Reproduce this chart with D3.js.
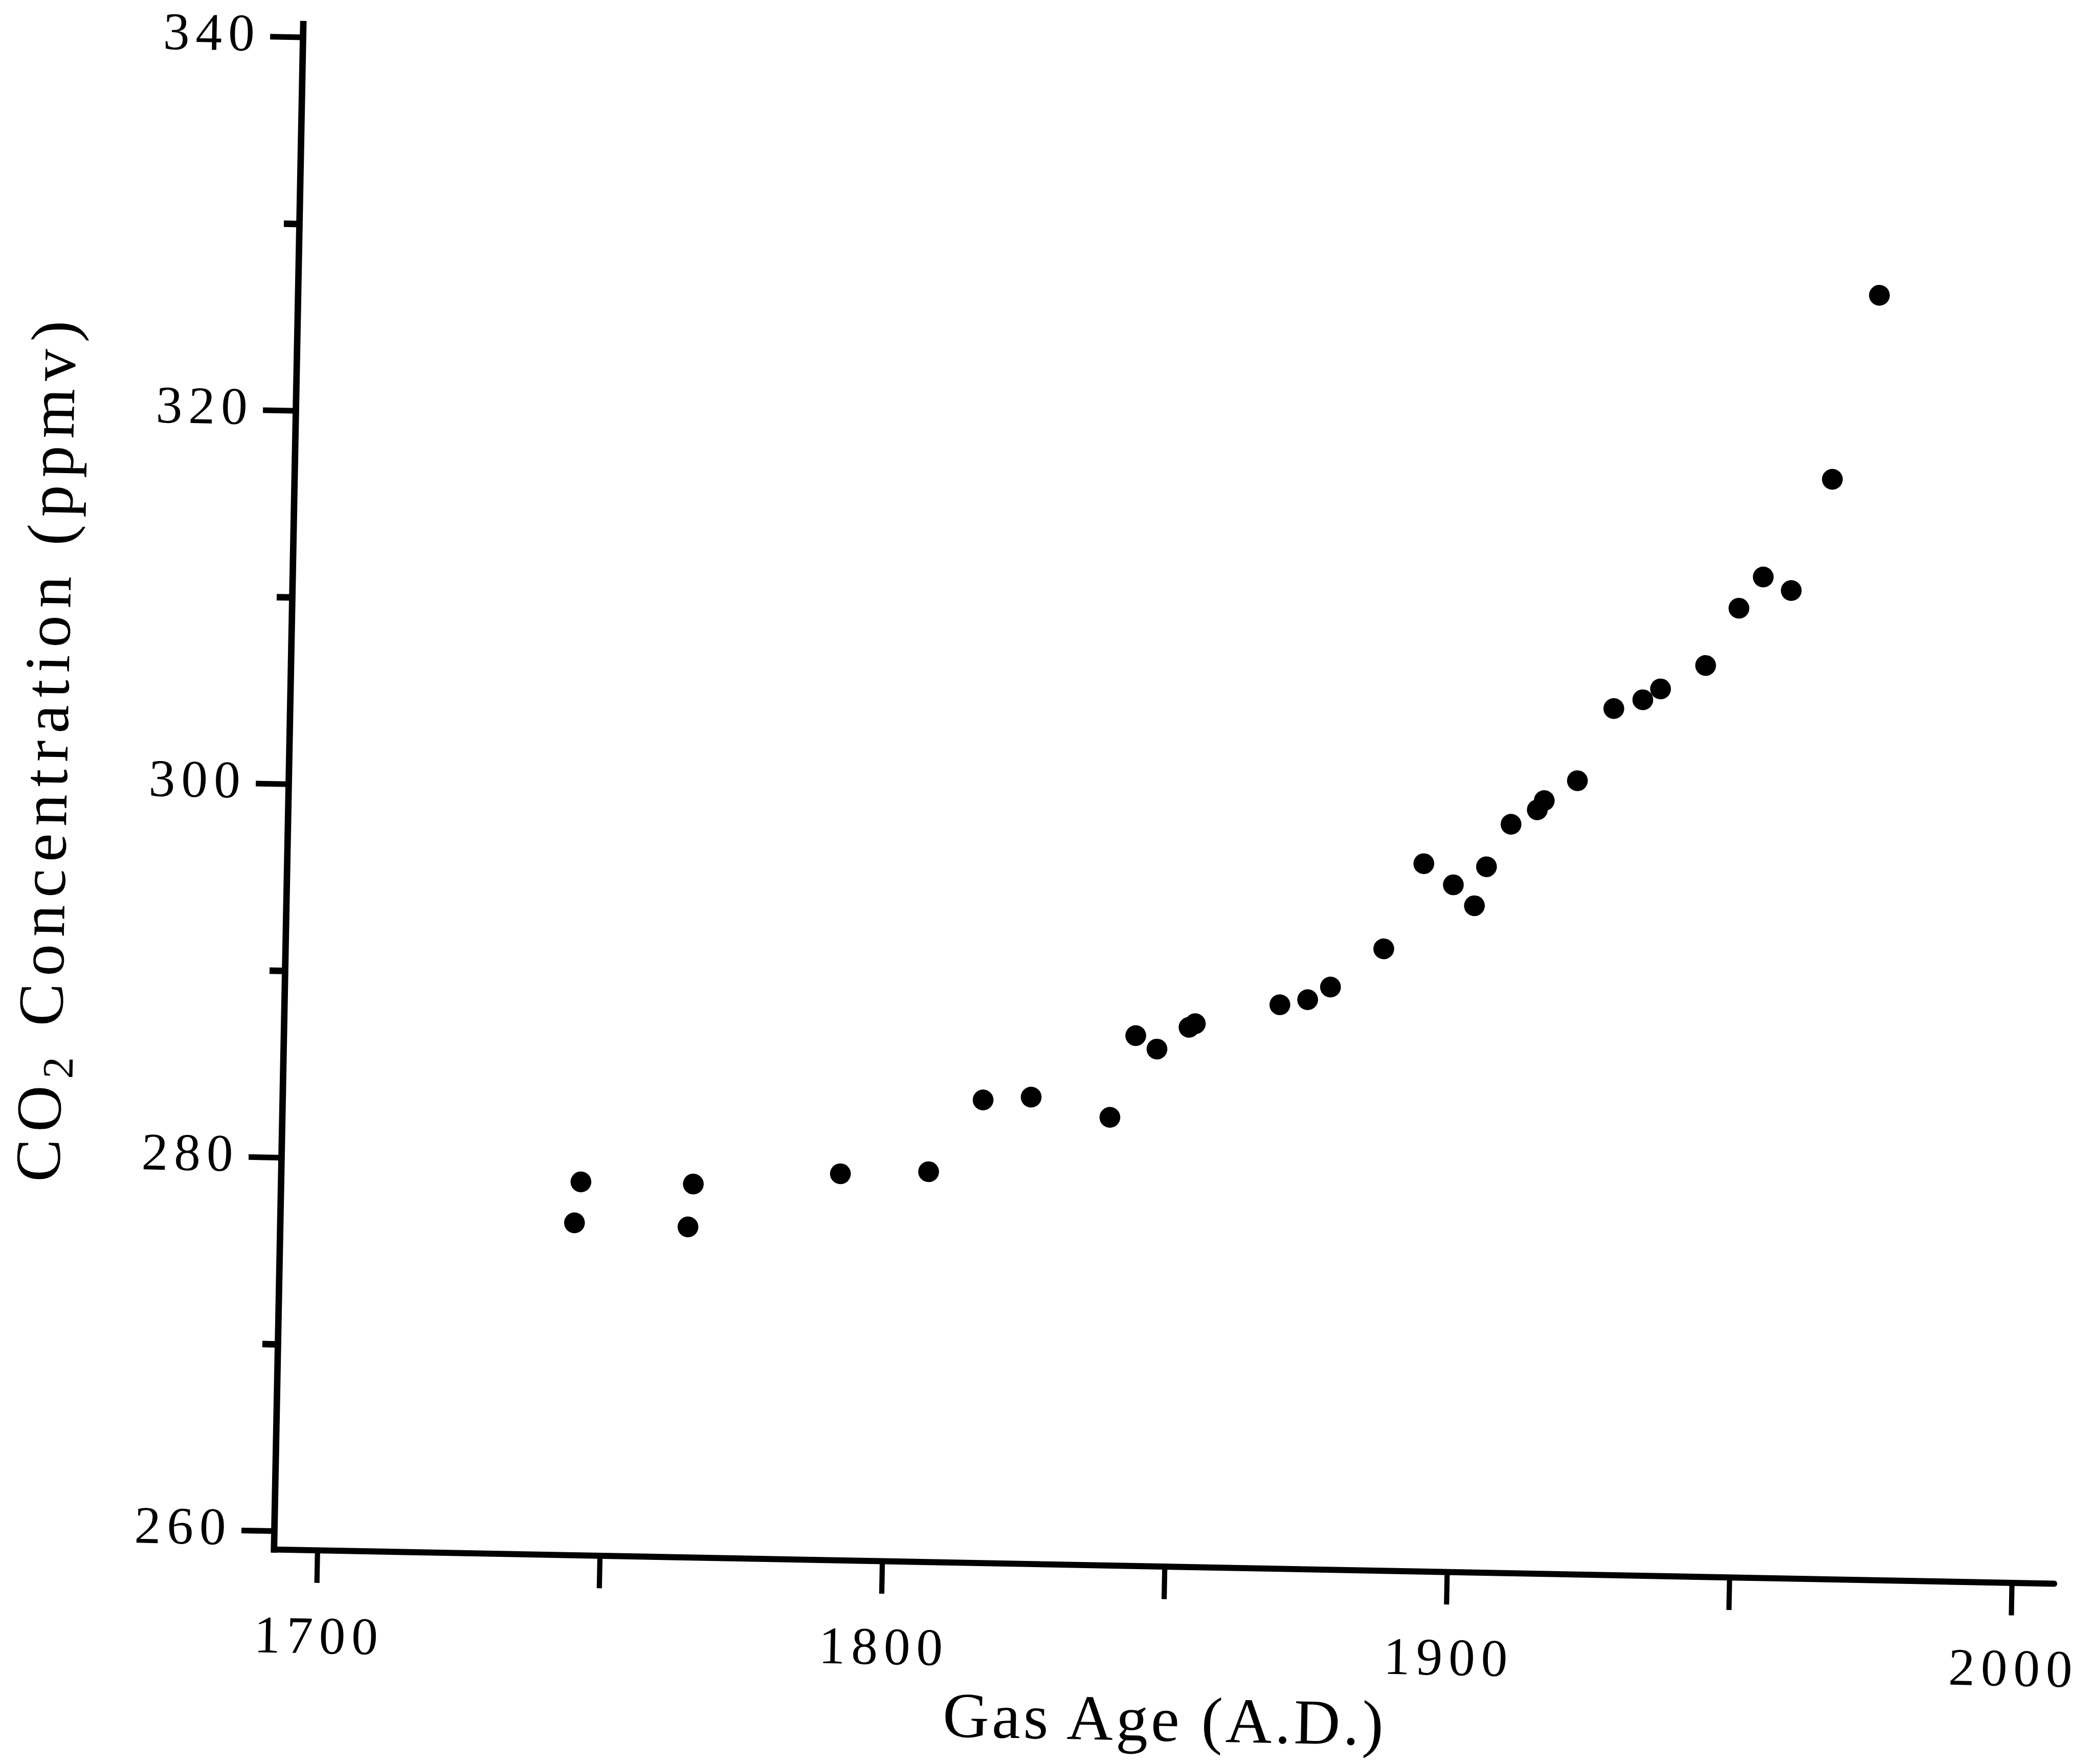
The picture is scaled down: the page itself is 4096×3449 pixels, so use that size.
<!DOCTYPE html>
<html>
<head>
<meta charset="utf-8">
<script src="https://cdn.jsdelivr.net/npm/d3@7"></script>
<style>
  body { margin: 0; background: #fff; }
  text { font-family: "Liberation Serif", "DejaVu Serif", serif; fill: #000; }
</style>
</head>
<body>
<div id="chart"></div>
<script>
// gas age (A.D.) and CO2 (ppmv)
const years = [1744.4, 1745.4, 1764.5, 1765.3, 1791.3, 1806.9, 1816.3, 1824.8, 1838.8, 1843.1,
               1846.9, 1852.5, 1853.6, 1868.5, 1873.4, 1877.4, 1886.7, 1893.5, 1898.8, 1902.6,
               1904.6, 1908.8, 1913.4, 1914.6, 1920.4, 1926.6, 1931.7, 1934.8, 1942.7, 1948.4,
               1952.6, 1957.6, 1964.5, 1972.2];
const co2 = [276.8, 279.0, 276.7, 279.0, 279.7, 279.9, 283.8, 284.0, 283.0, 287.4,
             286.7, 287.9, 288.1, 289.2, 289.5, 290.2, 292.3, 296.9, 295.8, 294.7,
             296.8, 299.1, 299.9, 300.4, 301.5, 305.4, 305.9, 306.5, 307.8, 310.9,
             312.6, 311.9, 317.9, 327.8];

const yMajorTicks = [260, 280, 300, 320, 340];
const yMinorTicks = [270, 290, 310, 330];
const xTicks = [1700, 1750, 1800, 1850, 1900, 1950, 2000];
const xTickLabels = [1700, 1800, 1900, 2000];

const xTitle = "Gas Age (A.D.)";
const yTitleParts = ["CO", "2", " Concentration (ppmv)"];

// reference frame is 4834 x 4071, drawn into the 4096 x 3449 window
const W = 4834, H = 4071;

const svg = d3.select("#chart").append("svg")
  .attr("width", 4096)
  .attr("height", 3449)
  .attr("viewBox", `0 0 ${W} ${H}`);

svg.append("rect").attr("width", W).attr("height", H).attr("fill", "#fff");

// the scanned figure is turned a little clockwise
const g = svg.append("g").attr("transform", "translate(632,3576) rotate(1.1)");

const xScale = d3.scaleLinear().domain([1700, 2000]).range([100, 4011]);
const yScale = d3.scaleLinear().domain([260, 340]).range([-43, -3491]);

// axis lines
g.append("line")
  .attr("x1", 0).attr("y1", 0).attr("x2", 0).attr("y2", -3521)
  .attr("stroke", "#000").attr("stroke-width", 15).attr("stroke-linecap", "square");
g.append("line")
  .attr("x1", 0).attr("y1", 0).attr("x2", 4109).attr("y2", 0)
  .attr("stroke", "#000").attr("stroke-width", 14).attr("stroke-linecap", "round");

// x axis
const xAxis = d3.axisBottom(xScale)
  .tickValues(xTicks)
  .tickSize(75)
  .tickPadding(76)
  .tickFormat(d => xTickLabels.includes(d) ? String(d) : "");

const gx = g.append("g").call(xAxis);
gx.select(".domain").remove();
gx.selectAll(".tick line").attr("stroke", "#000").attr("stroke-width", 12);
gx.selectAll(".tick text")
  .attr("font-size", 122)
  .attr("letter-spacing", 14)
  .attr("dx", 7)
  .attr("font-family", null);

// y axis, long ticks with labels
const yAxis = d3.axisLeft(yScale)
  .tickValues(yMajorTicks)
  .tickSize(76)
  .tickPadding(22)
  .tickFormat(d3.format("d"));

const gy = g.append("g").call(yAxis);
gy.select(".domain").remove();
gy.selectAll(".tick line").attr("stroke", "#000").attr("stroke-width", 13);
gy.selectAll(".tick text")
  .attr("font-size", 122)
  .attr("letter-spacing", 14)
  .attr("dy", "0.27em")
  .attr("font-family", null);

// y axis, short ticks
const yMinor = d3.axisLeft(yScale)
  .tickValues(yMinorTicks)
  .tickSize(36)
  .tickFormat("");

const gy2 = g.append("g").call(yMinor);
gy2.select(".domain").remove();
gy2.selectAll(".tick line").attr("stroke", "#000").attr("stroke-width", 15);

// points
g.append("g")
  .selectAll("circle")
  .data(years)
  .join("circle")
  .attr("cx", d => xScale(d))
  .attr("cy", (d, i) => yScale(co2[i]))
  .attr("r", 24)
  .attr("fill", "#000");

// axis titles
g.append("text")
  .attr("x", 2059)
  .attr("y", 402)
  .attr("text-anchor", "middle")
  .attr("font-size", 148)
  .attr("textLength", 1017)
  .attr("lengthAdjust", "spacing")
  .text(xTitle);

const yt = g.append("text")
  .attr("transform", "translate(-512,-1832) rotate(-90)")
  .attr("text-anchor", "middle")
  .attr("font-size", 148)
  .attr("textLength", 1988)
  .attr("lengthAdjust", "spacing");
yt.append("tspan").text(yTitleParts[0]);
yt.append("tspan").attr("font-size", 100).attr("dy", 26).text(yTitleParts[1]);
yt.append("tspan").attr("dy", -26).text(yTitleParts[2]);
</script>
</body>
</html>
